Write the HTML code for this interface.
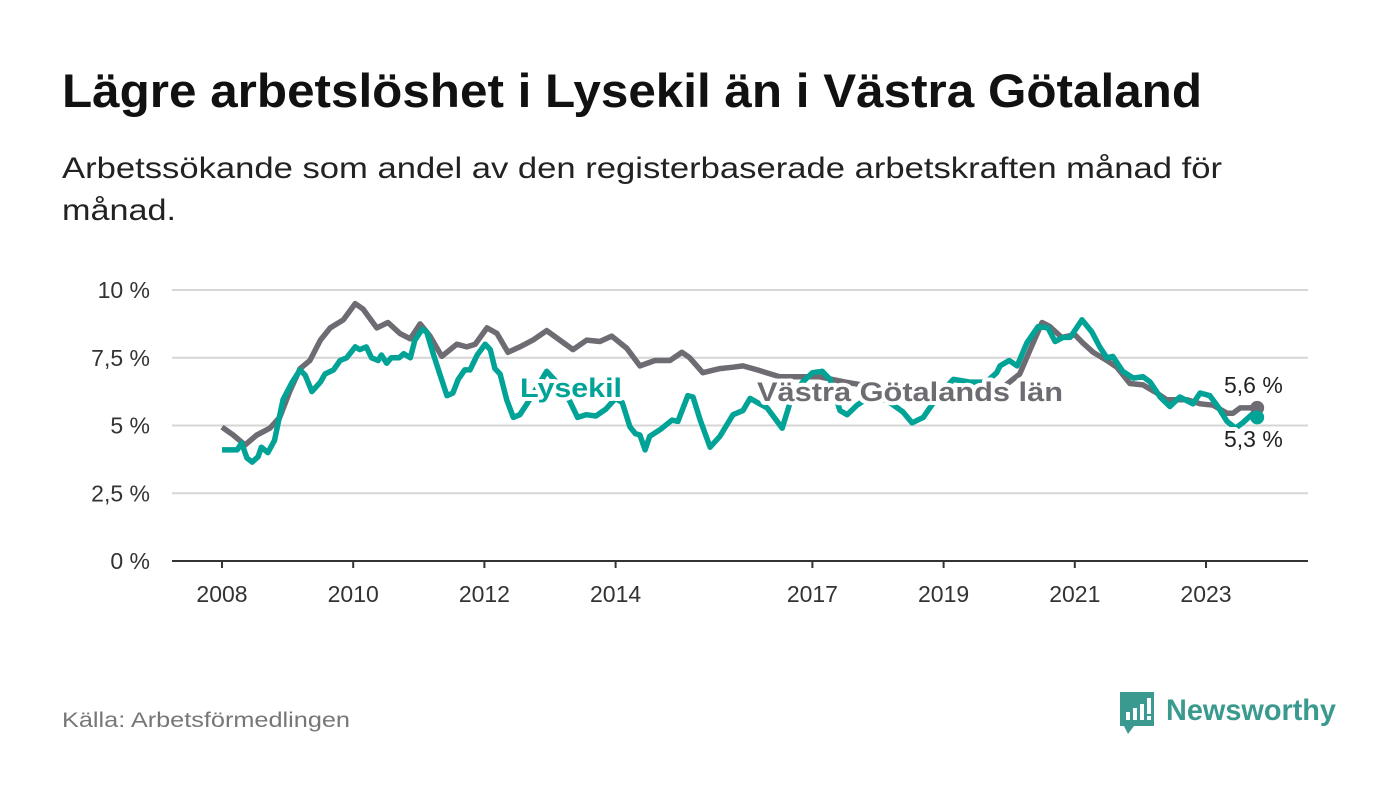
<!DOCTYPE html>
<html><head><meta charset="utf-8"><style>
html,body{margin:0;padding:0;background:#fff;}
svg{display:block;font-family:"Liberation Sans",sans-serif;}
</style></head><body>
<svg id="chart" width="1400" height="794" viewBox="0 0 1400 794" xmlns="http://www.w3.org/2000/svg">
<text x="62" y="107" font-size="47" font-weight="bold" fill="#111" textLength="1140" lengthAdjust="spacingAndGlyphs">Lägre arbetslöshet i Lysekil än i Västra Götaland</text>
<text x="62" y="178" font-size="30" fill="#222" textLength="1160" lengthAdjust="spacingAndGlyphs">Arbetssökande som andel av den registerbaserade arbetskraften månad för</text>
<text x="62" y="220" font-size="30" fill="#222" textLength="114" lengthAdjust="spacingAndGlyphs">månad.</text>
<g id="grid"></g>
<g id="yt"></g>
<g id="xt"></g>
<g id="lines"></g>
<g id="labels"></g>
<text x="62" y="727" font-size="21" fill="#777" textLength="288" lengthAdjust="spacingAndGlyphs">Källa: Arbetsförmedlingen</text>
<g>
<path d="M1120 692 h34 v34 h-20 l-6 8 l-4 -8 h-4 z" fill="#3a9a8f"/>
<rect x="1126" y="712" width="4" height="8" fill="#fff"/><rect x="1133" y="708" width="4" height="12" fill="#fff"/><rect x="1140" y="704" width="4" height="16" fill="#fff"/><rect x="1147" y="698" width="4" height="16" fill="#fff"/><rect x="1147" y="716" width="4" height="4" fill="#fff"/>
<text x="1166" y="720" font-size="30" fill="#3a9a8f" font-weight="bold" textLength="170" lengthAdjust="spacingAndGlyphs">Newsworthy</text>
</g>
</svg>
<script>
const yTicks=[0,2.5,5,7.5,10];
const yTickLabels=["0 %","2,5 %","5 %","7,5 %","10 %"];
const xTicks=[2008,2010,2012,2014,2017,2019,2021,2023];
const vgDates=[2008.0,2008.17,2008.35,2008.53,2008.73,2008.88,2009.04,2009.19,2009.34,2009.5,2009.65,2009.85,2010.03,2010.15,2010.36,2010.53,2010.71,2010.87,2011.02,2011.17,2011.35,2011.58,2011.73,2011.86,2012.04,2012.19,2012.36,2012.54,2012.74,2012.95,2013.15,2013.35,2013.56,2013.76,2013.94,2014.17,2014.37,2014.6,2014.83,2015.01,2015.13,2015.33,2015.59,2015.79,2015.94,2016.16,2016.5,2016.8,2017.1,2017.5,2018.0,2018.5,2019.0,2019.5,2019.9,2020.16,2020.32,2020.5,2020.62,2020.8,2021.0,2021.12,2021.28,2021.49,2021.64,2021.84,2022.04,2022.25,2022.4,2022.71,2022.91,2023.11,2023.32,2023.41,2023.52,2023.78];
const vgValues=[4.94,4.65,4.28,4.65,4.9,5.3,6.3,7.1,7.4,8.15,8.6,8.9,9.5,9.3,8.6,8.8,8.4,8.2,8.75,8.3,7.55,8.0,7.9,8.0,8.6,8.4,7.7,7.9,8.15,8.5,8.15,7.8,8.15,8.1,8.3,7.85,7.2,7.4,7.4,7.7,7.5,6.95,7.1,7.15,7.2,7.05,6.8,6.8,6.8,6.6,6.4,6.2,6.3,6.3,6.4,6.9,7.8,8.8,8.65,8.25,8.35,8.05,7.7,7.4,7.15,6.55,6.5,6.2,5.95,5.95,5.8,5.75,5.45,5.45,5.65,5.65];
const lyDates=[2008.0,2008.23,2008.3,2008.38,2008.46,2008.55,2008.6,2008.7,2008.8,2008.93,2009.07,2009.19,2009.27,2009.37,2009.5,2009.57,2009.7,2009.8,2009.9,2010.03,2010.1,2010.2,2010.28,2010.38,2010.43,2010.51,2010.58,2010.7,2010.77,2010.87,2010.94,2011.05,2011.12,2011.22,2011.32,2011.43,2011.52,2011.6,2011.7,2011.78,2011.89,2012.01,2012.09,2012.16,2012.24,2012.34,2012.44,2012.54,2012.65,2012.8,2012.95,2013.1,2013.3,2013.42,2013.55,2013.7,2013.85,2014.0,2014.1,2014.22,2014.3,2014.37,2014.45,2014.52,2014.68,2014.86,2014.95,2015.1,2015.18,2015.29,2015.44,2015.59,2015.79,2015.94,2016.05,2016.16,2016.31,2016.54,2016.66,2016.85,2017.0,2017.15,2017.27,2017.42,2017.53,2017.68,2017.9,2018.15,2018.38,2018.52,2018.69,2018.76,2018.95,2019.15,2019.4,2019.65,2019.81,2019.86,2020.0,2020.12,2020.27,2020.44,2020.59,2020.7,2020.82,2020.93,2021.11,2021.26,2021.38,2021.49,2021.58,2021.73,2021.89,2022.04,2022.15,2022.3,2022.45,2022.6,2022.8,2022.91,2023.06,2023.18,2023.32,2023.45,2023.56,2023.72,2023.78];
const lyValues=[4.1,4.1,4.35,3.8,3.65,3.85,4.2,4.0,4.45,5.95,6.6,7.05,6.85,6.25,6.6,6.9,7.05,7.4,7.5,7.9,7.8,7.9,7.5,7.4,7.6,7.3,7.5,7.5,7.65,7.5,8.15,8.55,8.45,7.65,6.9,6.1,6.2,6.7,7.05,7.05,7.6,8.0,7.8,7.1,6.9,5.95,5.3,5.4,5.8,6.4,7.0,6.6,5.9,5.3,5.4,5.35,5.6,6.0,5.85,4.95,4.7,4.65,4.1,4.6,4.85,5.2,5.15,6.1,6.05,5.2,4.2,4.6,5.4,5.55,6.0,5.85,5.65,4.9,5.85,6.6,6.95,7.0,6.7,5.55,5.4,5.75,6.1,5.9,5.5,5.1,5.3,5.55,6.2,6.7,6.6,6.6,6.95,7.2,7.4,7.2,8.05,8.65,8.6,8.1,8.25,8.25,8.9,8.45,7.9,7.5,7.55,7.0,6.75,6.8,6.6,6.05,5.7,6.05,5.8,6.2,6.1,5.7,5.15,4.9,5.1,5.45,5.3];
const X=d=>222+(d-2008)*65.6;
const Y=v=>561-v*27.1;
const NS="http://www.w3.org/2000/svg";
function mk(tag,attrs,parent,txt){const e=document.createElementNS(NS,tag);for(const k in attrs)e.setAttribute(k,attrs[k]);if(txt!==undefined)e.textContent=txt;parent.appendChild(e);return e;}
const grid=document.getElementById('grid'),yt=document.getElementById('yt'),xt=document.getElementById('xt'),lines=document.getElementById('lines'),labels=document.getElementById('labels');
yTicks.forEach((t,i)=>{
 const l=mk('line',{x1:172,x2:1308,y1:Y(t),y2:Y(t),stroke:t===0?'#333':'#d6d6d6','stroke-width':2},grid);
 
 
 const tx=mk('text',{x:150,y:Y(t)+8,'font-size':23,fill:'#333','text-anchor':'end'},yt,yTickLabels[i]);
 
 
});
xTicks.forEach(t=>{
 const l=mk('line',{x1:X(t),x2:X(t),y1:561,y2:568,stroke:'#333','stroke-width':2},xt);
 
 
 const tx=mk('text',{x:X(t),y:602,'font-size':23,fill:'#333','text-anchor':'middle'},xt,String(t));
 
 
});
function pts(ds,vs){return ds.map((d,i)=>X(d).toFixed(1)+','+Y(vs[i]).toFixed(1)).join(' ');}
const pv=mk('polyline',{points:pts(vgDates,vgValues),fill:'none',stroke:'#6e6c72','stroke-width':5.5,'stroke-linejoin':'round'},lines);


const pl=mk('polyline',{points:pts(lyDates,lyValues),fill:'none',stroke:'#00a396','stroke-width':5.5,'stroke-linejoin':'round'},lines);


const dv=mk('circle',{cx:X(vgDates[vgDates.length-1]),cy:Y(vgValues[vgValues.length-1]),r:7,fill:'#6e6c72'},lines);


const dl=mk('circle',{cx:X(lyDates[lyDates.length-1]),cy:Y(lyValues[lyValues.length-1]),r:7,fill:'#00a396'},lines);


const halo={stroke:'#fff','stroke-width':8,'paint-order':'stroke','stroke-linejoin':'round'};
const a=mk('text',Object.assign({x:520,y:397,'font-size':27,'font-weight':'bold',fill:'#00a396',textLength:102,lengthAdjust:'spacingAndGlyphs'},halo),labels,'Lysekil');


const b=mk('text',Object.assign({x:757,y:401,'font-size':27,'font-weight':'bold',fill:'#6e6c72',textLength:306,lengthAdjust:'spacingAndGlyphs'},halo),labels,'Västra Götalands län');


const c=mk('text',Object.assign({x:1224,y:393,'font-size':23,fill:'#222'},halo),labels,'5,6 %');


const e=mk('text',Object.assign({x:1224,y:447,'font-size':23,fill:'#222'},halo),labels,'5,3 %');


</script>
</body></html>
